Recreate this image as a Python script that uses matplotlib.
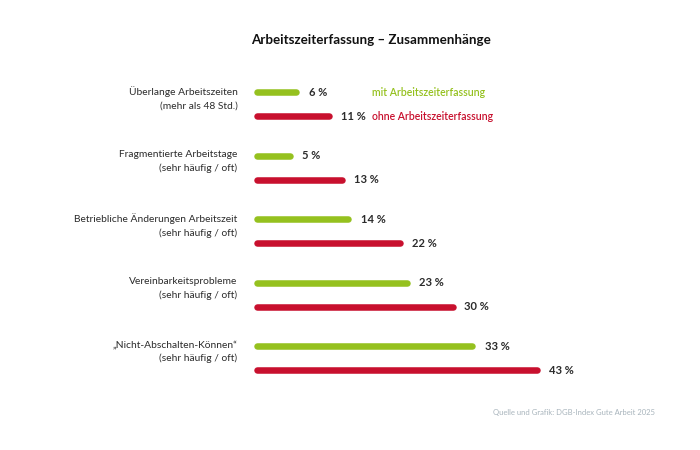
import matplotlib.pyplot as plt

plt.rcParams['font.family'] = ['Lato', 'DejaVu Sans']

categories = ["Überlange Arbeitszeiten\n(mehr als 48 Std.)",
              "Fragmentierte Arbeitstage\n(sehr häufig / oft)",
              "Betriebliche Änderungen Arbeitszeit\n(sehr häufig / oft)",
              "Vereinbarkeitsprobleme\n(sehr häufig / oft)",
              "\u201eNicht-Abschalten-Können\u201c\n(sehr häufig / oft)"]
mit_values = [6, 5, 14, 23, 33]
ohne_values = [11, 13, 22, 30, 43]
series_names = ["mit Arbeitszeiterfassung", "ohne Arbeitszeiterfassung"]
title = "Arbeitszeiterfassung \u2013 Zusammenhänge"
source = "Quelle und Grafik: DGB-Index Gute Arbeit 2025"

green = '#95c11f'
red = '#c8102e'
text_col = '#2b2b2b'

fig = plt.figure(figsize=(7, 4.5), dpi=100)
ax = fig.add_axes([0, 0, 1, 1])
ax.set_axis_off()

# x: percent units, 0 at ~257px, 6.52 px per percent
px = 6.52
ax.set_xlim(-257 / px, (700 - 257) / px)
# y: one unit per group, green row at group index, red row below
gap = 24 / 63.5
ax.set_ylim((450 - 92) / 63.5, -92 / 63.5)

for i, (cat, m, o) in enumerate(zip(categories, mit_values, ohne_values)):
    ax.plot([0, m], [i, i], color=green, lw=4.7, solid_capstyle='round')
    ax.plot([0, o], [i + gap, i + gap], color=red, lw=4.7, solid_capstyle='round')
    ax.annotate(f"{m} %", (m, i), xytext=(9, 0), textcoords='offset points',
                va='center', ha='left', fontsize=8, fontweight='bold', color=text_col)
    ax.annotate(f"{o} %", (o, i + gap), xytext=(8.5, 0), textcoords='offset points',
                va='center', ha='left', fontsize=8, fontweight='bold', color=text_col)
    ax.annotate(cat, (0, i), xytext=(-14, 4), textcoords='offset points',
                va='top', ha='right', fontsize=7.4, color=text_col, linespacing=1.55)

# legend next to first group
ax.text(17.6, 0, series_names[0], va='center', ha='left', fontsize=7.6,
        fontweight='semibold', color=green)
ax.text(17.6, gap, series_names[1], va='center', ha='left', fontsize=7.6,
        fontweight='semibold', color=red)

fig.text(0.53, 1 - 40 / 450, title, ha='center', va='center', fontsize=9.6,
         fontweight='bold', color='#111111')
fig.text(0.936, 1 - 412 / 450, source, ha='right', va='center', fontsize=5.5,
         color='#a8b4bc')

fig.savefig('out.png', dpi=100)
